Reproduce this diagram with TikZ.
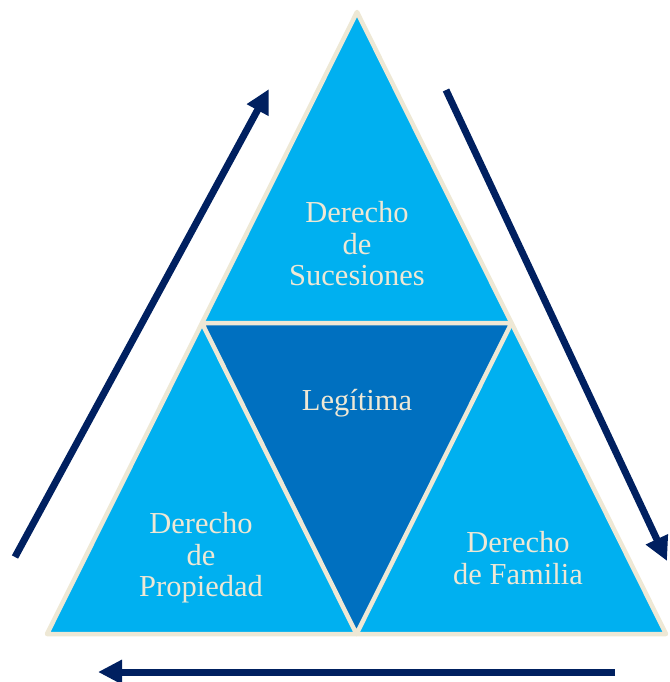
\documentclass[tikz,border=0pt]{standalone}
\usepackage{fontspec}
\setmainfont{Liberation Serif}
\usetikzlibrary{arrows.meta}
\definecolor{lightblue}{HTML}{00B0F0}
\definecolor{darkblue}{HTML}{0070C0}
\definecolor{navy}{HTML}{002060}
\definecolor{cream}{HTML}{EEE8D5}
\begin{document}
\begin{tikzpicture}[x=1pt,y=-1pt,
  edge/.style={draw=cream,line width=4.5pt,line join=round},
  lbl/.style={text=cream,font=\fontsize{30.5}{31.5}\selectfont,align=center},
  arr/.style={draw=navy,line width=7pt,-{Triangle[length=24pt,width=23pt]}}]
\useasboundingbox (0,0) rectangle (669,682);
\coordinate (T) at (357,12);
\coordinate (L) at (47,634);
\coordinate (R) at (666,634);
\path (T) -- (L) coordinate[pos=0.5] (ML);
\path (T) -- (R) coordinate[pos=0.5] (MR);
\path (L) -- (R) coordinate[pos=0.5] (MB);
\fill[lightblue] (T) -- (L) -- (R) -- cycle;
\fill[darkblue] (ML) -- (MR) -- (MB) -- cycle;
\draw[edge] (T) -- (L) -- (R) -- cycle;
\draw[edge] (ML) -- (MR) -- (MB) -- cycle;
\node[lbl] (suc) at (357,244) {Derecho\\de\\Sucesiones};
\node[lbl] (leg) at (357,403) {Legítima};
\node[lbl] (prop) at (201,558) {Derecho\\de\\Propiedad};
\node[lbl] (fam) at (518,558) {Derecho\\de Familia};
\coordinate (a1) at (15,557);
\coordinate (a2) at (269,89);
\coordinate (b1) at (446,90);
\coordinate (b2) at (667,561);
\coordinate (c1) at (615,672);
\coordinate (c2) at (98,672);
\draw[arr] (a1) -- (a2);
\draw[arr] (b1) -- (b2);
\draw[arr] (c1) -- (c2);
\end{tikzpicture}
\end{document}
